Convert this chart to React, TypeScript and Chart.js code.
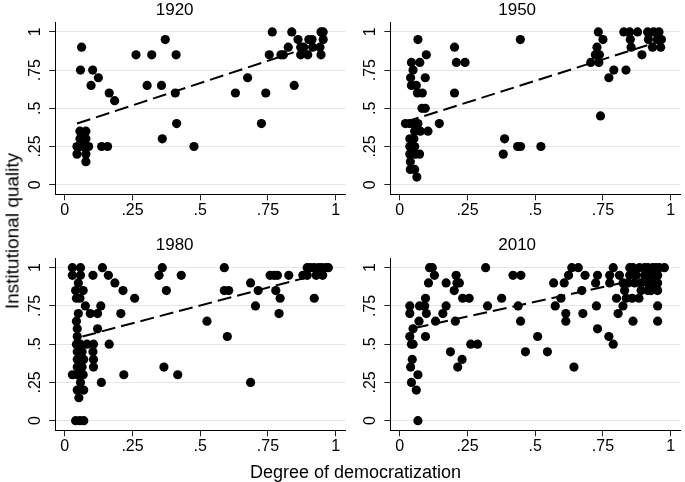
import React, { useEffect, useRef } from "react";
import { Chart, registerables } from "chart.js";

Chart.register(...registerables);

const FONT = '"Liberation Sans", Arial, Helvetica, sans-serif';

// Axis ticks
const tickValues = [0, 0.25, 0.5, 0.75, 1];
const tickLabels = ["0", ".25", ".5", ".75", "1"];

// Panel titles
const panelTitles = ["1920", "1950", "1980", "2010"];

// 1920
const x1920 = [0.045, 0.045, 0.056, 0.056, 0.056, 0.078, 0.078, 0.078, 0.078, 0.078, 0.088, 0.065, 0.136, 0.158, 0.062, 0.058, 0.103, 0.124, 0.097, 0.164, 0.184, 0.263, 0.321, 0.304, 0.357, 0.371, 0.411, 0.408, 0.413, 0.36, 0.477, 0.63, 0.675, 0.726, 0.742, 0.755, 0.766, 0.798, 0.807, 0.825, 0.838, 0.847, 0.861, 0.871, 0.871, 0.882, 0.897, 0.901, 0.913, 0.915, 0.942, 0.946, 0.954, 0.946, 0.954];
const y1920 = [0.2, 0.25, 0.35, 0.3, 0.25, 0.35, 0.3, 0.25, 0.2, 0.15, 0.25, 0.25, 0.25, 0.25, 0.9, 0.75, 0.75, 0.7, 0.65, 0.6, 0.55, 0.85, 0.85, 0.65, 0.65, 0.95, 0.85, 0.6, 0.4, 0.3, 0.25, 0.6, 0.7, 0.4, 0.6, 0.85, 1, 0.85, 0.85, 0.9, 1, 0.65, 0.95, 0.9, 0.85, 0.9, 0.85, 0.95, 0.95, 0.9, 0.9, 1, 0.95, 0.85, 1];
const fit1920X = [0.045, 0.845];
const fit1920Y = [0.4, 0.866];

// 1950
const x1950 = [0.067, 0.098, 0.043, 0.074, 0.049, 0.04, 0.094, 0.043, 0.061, 0.065, 0.083, 0.082, 0.094, 0.021, 0.037, 0.049, 0.067, 0.055, 0.076, 0.104, 0.037, 0.052, 0.037, 0.055, 0.037, 0.057, 0.073, 0.039, 0.039, 0.055, 0.063, 0.146, 0.202, 0.209, 0.241, 0.202, 0.445, 0.387, 0.382, 0.435, 0.446, 0.521, 0.733, 0.728, 0.722, 0.737, 0.75, 0.705, 0.735, 0.741, 0.772, 0.79, 0.827, 0.849, 0.878, 0.851, 0.854, 0.835, 0.894, 0.915, 0.937, 0.957, 0.918, 0.951, 0.966, 0.933, 0.963];
const y1950 = [0.95, 0.85, 0.8, 0.8, 0.75, 0.7, 0.7, 0.65, 0.65, 0.6, 0.6, 0.5, 0.5, 0.4, 0.4, 0.4, 0.4, 0.35, 0.35, 0.35, 0.3, 0.3, 0.25, 0.25, 0.2, 0.2, 0.2, 0.15, 0.1, 0.1, 0.05, 0.4, 0.9, 0.8, 0.8, 0.6, 0.95, 0.3, 0.2, 0.25, 0.25, 0.25, 1, 0.9, 0.85, 0.85, 0.95, 0.8, 0.8, 0.45, 0.7, 0.75, 1, 1, 1, 0.95, 0.9, 0.75, 0.85, 1, 1, 1, 0.95, 0.95, 0.95, 0.9, 0.9];
const fit1950X = [0.02, 0.945];
const fit1950Y = [0.41, 0.93];

// 1980
const x1980 = [0.028, 0.058, 0.028, 0.058, 0.05, 0.04, 0.068, 0.043, 0.056, 0.076, 0.05, 0.043, 0.046, 0.046, 0.043, 0.058, 0.082, 0.106, 0.046, 0.064, 0.104, 0.046, 0.07, 0.106, 0.046, 0.064, 0.106, 0.028, 0.046, 0.068, 0.058, 0.046, 0.07, 0.052, 0.04, 0.056, 0.07, 0.104, 0.139, 0.161, 0.185, 0.215, 0.258, 0.133, 0.094, 0.121, 0.207, 0.121, 0.164, 0.135, 0.218, 0.348, 0.36, 0.43, 0.375, 0.366, 0.417, 0.525, 0.589, 0.589, 0.605, 0.6, 0.686, 0.714, 0.704, 0.686, 0.758, 0.773, 0.785, 0.827, 0.779, 0.795, 0.791, 0.879, 0.895, 0.907, 0.921, 0.937, 0.949, 0.964, 0.973, 0.895, 0.928, 0.952, 0.921];
const y1980 = [1, 1, 0.95, 0.95, 0.9, 0.85, 0.85, 0.8, 0.8, 0.75, 0.7, 0.65, 0.6, 0.55, 0.5, 0.5, 0.5, 0.5, 0.45, 0.45, 0.45, 0.4, 0.4, 0.4, 0.35, 0.35, 0.35, 0.3, 0.3, 0.3, 0.25, 0.2, 0.2, 0.15, 0, 0, 0, 0.95, 1, 0.95, 0.9, 0.85, 0.8, 0.75, 0.7, 0.7, 0.7, 0.6, 0.5, 0.25, 0.3, 0.95, 1, 0.95, 0.85, 0.35, 0.3, 0.65, 1, 0.85, 0.85, 0.55, 0.9, 0.85, 0.75, 0.25, 0.95, 0.95, 0.95, 0.95, 0.85, 0.8, 0.7, 0.95, 1, 1, 1, 1, 1, 1, 1, 0.95, 0.95, 0.95, 0.8];
const fit1980X = [0.065, 0.88];
const fit1980Y = [0.55, 0.93];

// 2010
const x2010 = [0.037, 0.037, 0.037, 0.043, 0.049, 0.046, 0.04, 0.043, 0.061, 0.067, 0.067, 0.049, 0.071, 0.073, 0.092, 0.095, 0.098, 0.095, 0.106, 0.11, 0.12, 0.128, 0.132, 0.159, 0.171, 0.171, 0.187, 0.201, 0.208, 0.205, 0.211, 0.22, 0.214, 0.23, 0.232, 0.256, 0.262, 0.287, 0.317, 0.324, 0.376, 0.418, 0.447, 0.437, 0.446, 0.464, 0.509, 0.545, 0.568, 0.574, 0.595, 0.607, 0.613, 0.613, 0.623, 0.635, 0.659, 0.643, 0.672, 0.684, 0.676, 0.723, 0.73, 0.726, 0.73, 0.772, 0.788, 0.775, 0.775, 0.788, 0.8, 0.806, 0.811, 0.824, 0.824, 0.83, 0.836, 0.858, 0.861, 0.849, 0.861, 0.885, 0.904, 0.916, 0.934, 0.946, 0.958, 0.977, 0.849, 0.873, 0.904, 0.928, 0.952, 0.842, 0.867, 0.891, 0.916, 0.94, 0.952, 0.883, 0.891, 0.916, 0.928, 0.952, 0.952, 0.952];
const y2010 = [0.75, 0.7, 0.55, 0.5, 0.5, 0.4, 0.35, 0.25, 0.2, 0.3, 0, 0.6, 0.65, 0.75, 0.75, 0.8, 0.7, 0.55, 0.9, 1, 1, 0.95, 0.65, 0.7, 0.75, 0.9, 0.45, 0.85, 0.95, 0.65, 0.9, 0.9, 0.35, 0.4, 0.8, 0.8, 0.5, 0.5, 1, 0.75, 0.8, 0.95, 0.95, 0.75, 0.65, 0.45, 0.55, 0.45, 0.9, 0.75, 0.8, 0.9, 0.7, 0.65, 0.95, 1, 1, 0.35, 0.85, 0.95, 0.7, 0.9, 0.95, 0.75, 0.6, 0.55, 0.5, 0.95, 0.9, 1, 0.8, 0.7, 0.95, 0.9, 0.75, 0.85, 0.8, 0.8, 0.65, 1, 1, 1, 1, 1, 1, 1, 1, 1, 0.95, 0.95, 0.95, 0.95, 0.95, 0.9, 0.9, 0.9, 0.9, 0.9, 0.9, 0.8, 0.85, 0.85, 0.85, 0.85, 0.75, 0.65];
const fit2010X = [0.055, 0.82];
const fit2010Y = [0.605, 0.9];

const xAxisTitle = "Degree of democratization";
const yAxisTitle = "Institutional quality";

type PanelProps = {
  title: string;
  xs: number[];
  ys: number[];
  fitX: number[];
  fitY: number[];
  left: number;
  top: number;
  width: number;
  height: number;
  yAxisWidth: number;
  xAxisHeight: number;
  titlePadBottom: number;
  rightPad: number;
};

function Panel(p: PanelProps) {
  const ref = useRef<HTMLCanvasElement | null>(null);
  useEffect(() => {
    if (!ref.current) return;
    const pts = p.xs.map((x, i) => ({ x, y: p.ys[i] }));
    const fit = p.fitX.map((x, i) => ({ x, y: p.fitY[i] }));
    const tickFont = { family: FONT, size: 16 };
    const chart = new Chart(ref.current, {
      type: "scatter",
      data: {
        datasets: [
          {
            data: fit,
            showLine: true,
            borderColor: "#000",
            borderWidth: 2,
            borderDash: [14, 6],
            pointRadius: 0,
            fill: false,
          } as any,
          {
            data: pts,
            pointRadius: 4.6,
            pointBackgroundColor: "#000",
            pointBorderWidth: 0,
            showLine: false,
          },
        ],
      },
      options: {
        animation: false,
        responsive: false,
        maintainAspectRatio: false,
        devicePixelRatio: 1,
        events: [],
        layout: { padding: { left: 0, right: p.rightPad, top: 0, bottom: 0 } },
        plugins: {
          legend: { display: false },
          tooltip: { enabled: false },
          title: {
            display: true,
            text: p.title,
            color: "#000",
            font: { family: FONT, size: 17, weight: "normal" },
            padding: { top: 0, bottom: p.titlePadBottom },
          },
        },
        scales: {
          x: {
            type: "linear",
            min: -0.035,
            max: 1.036,
            afterBuildTicks: (s: any) => {
              s.ticks = tickValues.map((v) => ({ value: v }));
            },
            afterFit: (s: any) => {
              s.height = p.xAxisHeight;
            },
            grid: {
              drawOnChartArea: false,
              drawTicks: true,
              tickLength: 6,
              tickColor: "#222",
            },
            border: { display: true, color: "#000", width: 1 },
            ticks: {
              autoSkip: false,
              maxRotation: 0,
              minRotation: 0,
              padding: 0.5,
              color: "#000",
              font: tickFont,
              callback: (v: any) => {
                const i = tickValues.indexOf(Number(v));
                return i >= 0 ? tickLabels[i] : "";
              },
            },
          },
          y: {
            type: "linear",
            min: -0.063,
            max: 1.061,
            afterBuildTicks: (s: any) => {
              s.ticks = tickValues.map((v) => ({ value: v }));
            },
            afterFit: (s: any) => {
              s.width = p.yAxisWidth;
            },
            grid: {
              color: "#e6e6e6",
              lineWidth: 1,
              drawTicks: true,
              tickLength: 6,
              tickColor: "#222",
            },
            border: { display: true, color: "#000", width: 1 },
            ticks: {
              autoSkip: false,
              minRotation: 90,
              maxRotation: 90,
              crossAlign: "center",
              padding: 2.6,
              color: "#000",
              font: tickFont,
              callback: (v: any) => {
                const i = tickValues.indexOf(Number(v));
                return i >= 0 ? tickLabels[i] : "";
              },
            },
          },
        },
      } as any,
    });
    return () => chart.destroy();
  }, []);
  return (
    <canvas
      ref={ref}
      width={p.width}
      height={p.height}
      style={{
        position: "absolute",
        left: p.left,
        top: p.top,
        width: p.width,
        height: p.height,
      }}
    />
  );
}

export default function App() {
  const col1 = { left: 0, width: 350, yAxisWidth: 55.3, rightPad: 0.7 };
  const col2 = { left: 350, width: 335, yAxisWidth: 40.3, rightPad: 0.7 };
  const row1 = { top: 0, height: 225, xAxisHeight: 30.7, titlePadBottom: 2.2 };
  const row2 = { top: 235, height: 230, xAxisHeight: 34.7, titlePadBottom: 2.9 };
  return (
    <div
      style={{
        position: "absolute",
        left: 0,
        top: 0,
        width: 685,
        height: 482,
        background: "#fff",
        overflow: "hidden",
        fontFamily: FONT,
      }}
    >
      <Panel title={panelTitles[0]} xs={x1920} ys={y1920} fitX={fit1920X} fitY={fit1920Y} {...col1} {...row1} />
      <Panel title={panelTitles[1]} xs={x1950} ys={y1950} fitX={fit1950X} fitY={fit1950Y} {...col2} {...row1} />
      <Panel title={panelTitles[2]} xs={x1980} ys={y1980} fitX={fit1980X} fitY={fit1980Y} {...col1} {...row2} />
      <Panel title={panelTitles[3]} xs={x2010} ys={y2010} fitX={fit2010X} fitY={fit2010Y} {...col2} {...row2} />
      <div
        style={{
          position: "absolute",
          left: 11.5,
          top: 230.5,
          transform: "translate(-50%, -50%) rotate(-90deg)",
          whiteSpace: "nowrap",
          fontSize: 19,
          lineHeight: "19px",
          color: "#000",
        }}
      >
        {yAxisTitle}
      </div>
      <div
        style={{
          position: "absolute",
          left: 355.5,
          top: 462.5,
          transform: "translateX(-50%)",
          whiteSpace: "nowrap",
          fontSize: 18,
          lineHeight: "18px",
          color: "#000",
        }}
      >
        {xAxisTitle}
      </div>
    </div>
  );
}
